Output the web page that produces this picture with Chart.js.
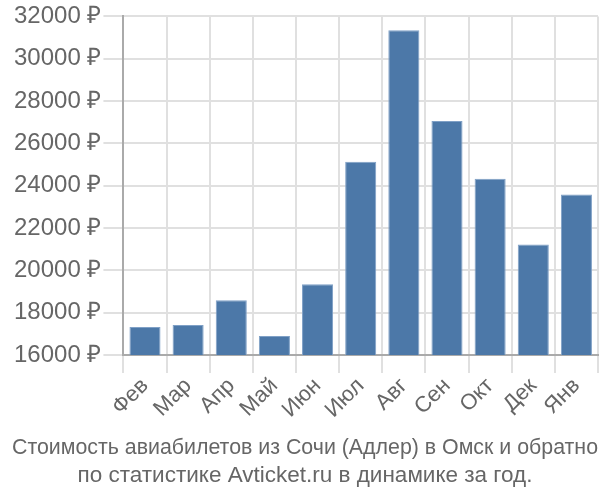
<!DOCTYPE html>
<html>
<head>
<meta charset="utf-8">
<script src="https://cdn.jsdelivr.net/npm/chart.js@4"></script>
<style>
  body { margin: 0; background: #fff; }
  #wrap { width: 600px; height: 500px; }
</style>
</head>
<body>
<div id="wrap"><canvas id="priceChart"></canvas></div>
<script>
// months and prices
var months = ['Фев', 'Мар', 'Апр', 'Май', 'Июн', 'Июл', 'Авг', 'Сен', 'Окт', 'Дек', 'Янв'];
var prices = [17320, 17420, 18590, 16890, 19340, 25130, 31340, 27060, 24330, 21220, 23580];
var titleLines = ['Стоимость авиабилетов из Сочи (Адлер) в Омск и обратно', 'по статистике Avticket.ru в динамике за год.'];

Chart.defaults.font.family = '"Liberation Sans", Arial, sans-serif';
Chart.defaults.color = '#666';

var ctx = document.getElementById('priceChart').getContext('2d');
var priceChart = new Chart(ctx, {
    type: 'bar',
    data: {
        labels: months,
        datasets: [{
            data: prices,
            backgroundColor: '#4c78a8',
            borderColor: '#7fa0c6',
            borderWidth: 1
        }]
    },
    options: {
        responsive: true,
        maintainAspectRatio: false,
        animation: false,
        layout: { padding: { top: 4, right: 2, left: 12, bottom: 0 } },
        plugins: {
            legend: { display: false },
            tooltip: { enabled: false },
            title: {
                display: true,
                position: 'bottom',
                text: titleLines,
                font: { size: 22.5, weight: 'normal', lineHeight: 1.24 },
                color: '#666',
                padding: { top: 11, bottom: 10 }
            }
        },
        scales: {
            x: {
                grid: { color: '#e0e0e0', lineWidth: 2, tickLength: 18 },
                border: { color: '#aaa', width: 2 },
                ticks: { font: { size: 22 }, maxRotation: 45, minRotation: 45, color: '#666', padding: 0 }
            },
            y: {
                min: 16000,
                max: 32000,
                grid: { color: '#e0e0e0', lineWidth: 2, tickLength: 20 },
                border: { color: '#aaa', width: 2 },
                ticks: {
                    stepSize: 2000,
                    font: { size: 24 },
                    color: '#666',
                    padding: 2,
                    callback: function (v) { return v + ' ₽'; }
                }
            }
        }
    }
});
</script>
</body>
</html>
